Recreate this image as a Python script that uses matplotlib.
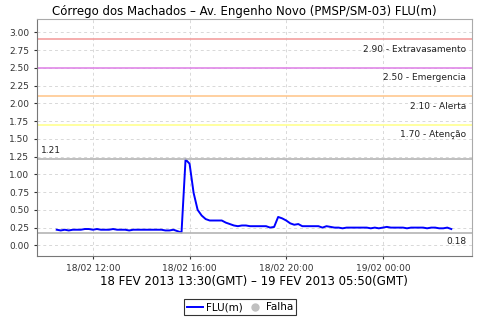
import numpy as np
import pandas as pd
import matplotlib
matplotlib.use("Agg")
import matplotlib.pyplot as plt
import matplotlib.dates as mdates
from matplotlib.lines import Line2D

# nivel FLU(m), leituras a cada 10 min (hora local)
start = "2013-02-18 10:30"
flu = [0.22, 0.21, 0.22, 0.21, 0.22, 0.22, 0.22, 0.23, 0.23, 0.22,
       0.23, 0.22, 0.22, 0.22, 0.23, 0.22, 0.22, 0.22, 0.21, 0.22,
       0.22, 0.22, 0.22, 0.22, 0.22, 0.22, 0.22, 0.21, 0.21, 0.22,
       0.20, 0.18, 1.21, 1.15, 0.74, 0.50, 0.42, 0.37, 0.35, 0.35,
       0.35, 0.35, 0.32, 0.30, 0.28, 0.27, 0.28, 0.28, 0.27, 0.27,
       0.27, 0.27, 0.27, 0.25, 0.26, 0.40, 0.38, 0.35, 0.31, 0.29,
       0.30, 0.27, 0.27, 0.27, 0.27, 0.27, 0.25, 0.27, 0.26, 0.25,
       0.25, 0.24, 0.25, 0.25, 0.25, 0.25, 0.25, 0.25, 0.24, 0.25,
       0.24, 0.25, 0.26, 0.25, 0.25, 0.25, 0.25, 0.24, 0.25, 0.25,
       0.25, 0.25, 0.24, 0.25, 0.25, 0.24, 0.24, 0.25, 0.23]
times = pd.date_range(start, periods=len(flu), freq="10min")

limites = [2.90, 2.50, 2.10, 1.70]
nomes = ["Extravasamento", "Emergencia", "Alerta", "Atenção"]
cores = ["#f4a0a0", "#e088e8", "#ffc890", "#ffff90"]
vmax, vmin = max(flu), min(flu)

fig = plt.figure(figsize=(4.8, 3.2), dpi=100)
ax = fig.add_axes([0.077, 0.2, 0.906, 0.741])

ax.plot(times, flu, color="#0000ff", lw=1.4)

for v, n, c in zip(limites, nomes, cores):
    ax.axhline(v, color=c, lw=1.2)
    ax.annotate(f"{v:.2f} - {n}", xy=(1, v), xycoords=("axes fraction", "data"),
                xytext=(-4, -4), textcoords="offset points", ha="right", va="top",
                fontsize=6.5, color="#222222")

ax.axhline(vmax, color="#b4b4b4", lw=1.2)
ax.annotate(f"{vmax:.2f}", xy=(0, vmax), xycoords=("axes fraction", "data"),
            xytext=(3, 3), textcoords="offset points", ha="left", va="bottom",
            fontsize=6.5, color="#222222")
ax.axhline(vmin, color="#b4b4b4", lw=1.2)
ax.annotate(f"{vmin:.2f}", xy=(1, vmin), xycoords=("axes fraction", "data"),
            xytext=(-4, -3), textcoords="offset points", ha="right", va="top",
            fontsize=6.5, color="#222222")

ax.set_ylim(-0.15, 3.19)
ax.set_yticks(np.arange(0, 3.01, 0.25))
ax.yaxis.set_major_formatter(matplotlib.ticker.FormatStrFormatter("%.2f"))
ax.set_xlim(pd.Timestamp("2013-02-18 09:41"), pd.Timestamp("2013-02-19 03:41"))
ax.xaxis.set_major_locator(mdates.HourLocator(byhour=[0, 4, 8, 12, 16, 20]))
ax.xaxis.set_major_formatter(mdates.DateFormatter("%d/%m %H:%M"))
ax.tick_params(labelsize=6.5, length=2, colors="#333333")
ax.grid(True, color="#d8d8d8", ls=(0, (3, 3)), lw=0.7)

for s in ["top", "right"]:
    ax.spines[s].set_color("#aaaaaa")
for s in ["left", "bottom"]:
    ax.spines[s].set_color("#777777")

ax.set_xlabel("18 FEV 2013 13:30(GMT) – 19 FEV 2013 05:50(GMT)", fontsize=8.5, labelpad=2)
fig.text(0.51, 0.965, "Córrego dos Machados – Av. Engenho Novo (PMSP/SM-03) FLU(m)",
         ha="center", va="center", fontsize=8.5)

handles = [Line2D([], [], color="#0000ff", lw=1.4),
           Line2D([], [], color="#c0c0c0", marker="o", ls="", markersize=5)]
leg = fig.legend(handles, ["FLU(m)", "Falha"], loc="center", bbox_to_anchor=(0.5, 0.04),
                 ncol=2, fontsize=7.5, frameon=True, fancybox=False,
                 handlelength=1.6, handletextpad=0.3, columnspacing=0.3,
                 borderpad=0.3)
leg.get_frame().set_edgecolor("black")
leg.get_frame().set_linewidth(0.8)

fig.savefig("out.png", dpi=100)
